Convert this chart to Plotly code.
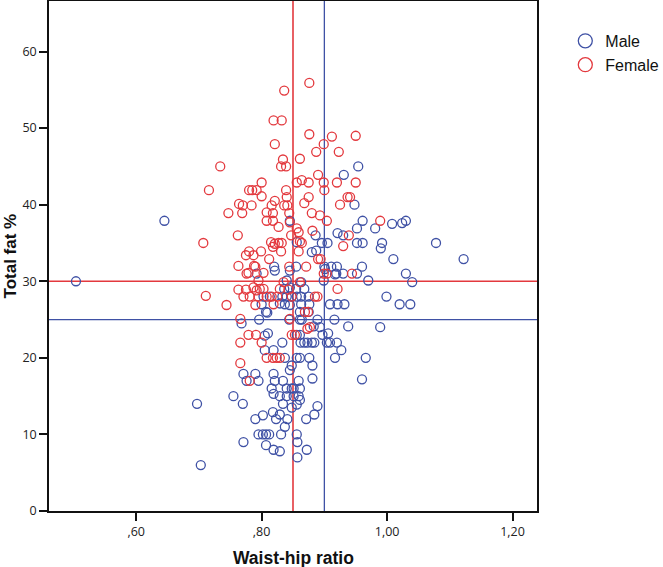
import plotly.graph_objects as go

# ---- data ----
female_x = [0.876, 0.836, 0.819, 0.832, 0.876, 0.912, 0.950, 0.821, 0.899, 0.887, 0.923, 0.861, 0.834, 0.831, 0.839, 0.734, 0.890,
            0.800, 0.856, 0.864, 0.875, 0.899, 0.920, 0.950,
            0.716, 0.780, 0.785, 0.792, 0.839, 0.900,
            0.800, 0.840, 0.875, 0.937, 0.941,
            0.821, 0.868, 0.764, 0.770, 0.784, 0.816, 0.836, 0.841, 0.925,
            0.747, 0.769, 0.808, 0.818, 0.844, 0.880, 0.893,
            0.808, 0.818, 0.845, 0.904, 0.989,
            0.827, 0.856, 0.859, 0.881,
            0.762, 0.847, 0.939,
            0.707, 0.815, 0.821, 0.827, 0.832, 0.861, 0.864, 0.930,
            0.818, 0.831, 0.859, 0.780, 0.799, 0.775, 0.787,
            0.812, 0.890, 0.894,
            0.763, 0.788, 0.790, 0.844, 0.871,
            0.779, 0.803, 0.776, 0.899, 0.904, 0.944,
            0.795, 0.835, 0.861,
            0.763, 0.775, 0.787, 0.792, 0.803, 0.829, 0.843, 0.921, 0.797,
            0.711, 0.771, 0.781, 0.795, 0.808, 0.816, 0.825, 0.848, 0.885, 0.889,
            0.744, 0.790, 0.819,
            0.869, 0.874,
            0.766, 0.845,
            0.877, 0.873,
            0.779, 0.791, 0.848, 0.853,
            0.766, 0.800,
            0.808, 0.818, 0.824, 0.829,
            0.766, 0.781]
female_y = [55.9, 54.9, 51.0, 51.0, 49.2, 48.9, 49.0, 47.9, 47.9, 46.9, 46.9, 46.0, 45.9, 45.0, 45.0, 45.0, 43.9,
            42.9, 42.9, 43.2, 42.9, 42.9, 42.9, 42.9,
            41.9, 41.9, 41.9, 41.9, 41.9, 41.9,
            41.1, 41.0, 41.0, 41.0, 41.0,
            40.5, 40.2, 40.1, 39.9, 39.9, 39.9, 39.9, 39.9, 40.0,
            38.9, 38.9, 39.0, 38.9, 38.9, 38.9, 38.6,
            37.9, 37.9, 37.7, 37.9, 37.9,
            37.1, 36.9, 36.4, 36.6,
            36.0, 36.0, 36.0,
            35.0, 35.1, 34.9, 35.0, 35.0, 35.2, 35.0, 34.6,
            34.5, 33.9, 33.9, 33.9, 33.9, 33.4, 33.4,
            32.9, 32.9, 32.9,
            32.0, 32.0, 31.9, 31.9, 31.9,
            31.1, 31.1, 31.0, 31.0, 31.0, 31.0,
            30.1, 29.9, 29.9,
            28.9, 28.9, 29.2, 28.8, 29.0, 29.0, 28.9, 29.0, 29.0,
            28.1, 28.0, 28.0, 28.0, 28.0, 28.0, 28.0, 28.0, 28.0, 28.0,
            26.9, 26.9, 27.0,
            26.0, 26.0,
            25.1, 25.1,
            24.0, 23.8,
            23.0, 23.0, 23.0, 23.0,
            22.0, 22.0,
            20.0, 20.0, 20.0, 20.0,
            19.3, 17.0]

male_x = [0.954, 0.931, 0.645, 0.948,
          0.961, 1.008, 1.024, 1.030, 0.845,
          0.952, 0.981, 0.886, 0.921, 0.930, 0.856,
          0.896, 0.905, 0.952, 0.961, 0.992, 1.078, 0.990,
          0.880, 0.887,
          1.010, 1.122,
          0.820, 0.855, 0.900, 0.911, 0.920, 0.960,
          0.792, 0.901, 0.919, 0.930, 0.952, 1.030, 0.821, 0.845, 0.917,
          0.504, 0.840, 0.863, 0.899, 0.970, 1.040,
          0.855, 0.868, 0.836, 0.845,
          0.803, 0.813, 0.833, 0.848, 0.863, 0.875, 0.999, 0.856, 0.840,
          0.800, 0.837, 0.863, 0.876, 0.909, 0.921, 0.932, 1.020, 1.037, 0.829, 0.845,
          0.807, 0.861, 0.875, 0.809,
          0.864, 0.768, 0.796, 0.889, 0.916, 0.844, 0.861,
          0.883, 0.893, 0.938, 0.989,
          0.805, 0.810, 0.856, 0.861, 0.897, 0.906,
          0.833, 0.862, 0.868, 0.873, 0.880, 0.884, 0.904, 0.909, 0.920,
          0.927, 0.805, 0.819,
          0.837, 0.856, 0.861, 0.876, 0.917, 0.966,
          0.848, 0.881, 0.845,
          0.771, 0.790, 0.819,
          0.776, 0.795, 0.821, 0.834, 0.859, 0.881, 0.960,
          0.816, 0.840, 0.848, 0.851, 0.861,
          0.755, 0.819, 0.829, 0.840, 0.851, 0.859, 0.861,
          0.697, 0.770, 0.834, 0.856, 0.889, 0.848,
          0.802, 0.818, 0.829, 0.884, 0.790, 0.823, 0.841, 0.871,
          0.837,
          0.795, 0.802, 0.807, 0.812, 0.831, 0.856,
          0.771, 0.857, 0.807,
          0.819, 0.829, 0.872,
          0.857, 0.703]
male_y = [45.0, 43.9, 37.9, 40.0,
          37.9, 37.5, 37.6, 37.9, 37.9,
          36.9, 36.9, 36.0, 36.3, 36.0, 35.1,
          35.0, 35.0, 35.0, 35.0, 35.0, 35.0, 34.3,
          33.8, 34.0,
          32.9, 32.9,
          31.9, 31.9, 31.9, 31.9, 31.9, 31.9,
          31.0, 31.6, 31.0, 31.0, 31.0, 31.0, 31.4, 31.4, 30.9,
          30.0, 30.1, 29.9, 30.1, 30.1, 29.9,
          29.0, 29.0, 29.0, 29.2,
          28.0, 28.0, 28.0, 28.0, 28.0, 28.0, 28.0, 28.0, 28.0,
          27.0, 27.0, 27.0, 27.0, 27.0, 27.0, 27.0, 27.0, 27.0, 27.1, 26.9,
          26.0, 26.0, 26.0, 25.9,
          25.0, 24.5, 25.0, 25.0, 25.0, 25.0, 25.0,
          24.1, 24.0, 24.1, 24.0,
          22.9, 23.2, 23.0, 23.0, 23.0, 23.2,
          22.0, 22.0, 22.0, 22.0, 22.0, 22.0, 22.0, 22.0, 22.0,
          21.0, 21.0, 21.0,
          20.0, 20.0, 20.0, 20.0, 20.0, 20.0,
          19.0, 19.0, 18.4,
          17.9, 17.9, 17.9,
          17.0, 17.0, 17.0, 17.0, 17.0, 17.3, 17.2,
          16.0, 16.0, 16.0, 16.0, 16.0,
          15.0, 15.3, 15.0, 15.0, 15.0, 15.0, 14.5,
          14.0, 14.0, 14.0, 13.9, 13.7, 13.5,
          12.5, 12.9, 12.6, 12.6, 12.0, 12.0, 12.0, 12.0,
          11.0,
          10.0, 10.0, 10.0, 10.0, 10.0, 10.0,
          9.0, 9.0, 8.6,
          8.0, 7.8, 8.0,
          7.0, 6.0]

# reference lines
male_cut_x, female_cut_x = 0.90, 0.85
male_cut_y, female_cut_y = 25, 30

x_tickvals = [0.60, 0.80, 1.00, 1.20]
x_ticktext = [",60", ",80", "1,00", "1,20"]
y_tickvals = [0, 10, 20, 30, 40, 50, 60]

BLUE = "#3F51A5"
RED = "#E3393E"

fig = go.Figure()
fig.add_trace(go.Scatter(x=male_x, y=male_y, mode="markers", showlegend=False,
                         marker=dict(symbol="circle-open", size=9, color=BLUE, line=dict(width=1.3, color=BLUE))))
fig.add_trace(go.Scatter(x=female_x, y=female_y, mode="markers", showlegend=False,
                         marker=dict(symbol="circle-open", size=9, color=RED, line=dict(width=1.3, color=RED))))
# legend entries
fig.add_trace(go.Scatter(x=[None], y=[None], mode="markers", name="Male",
                         marker=dict(symbol="circle-open", size=14, color=BLUE, line=dict(width=1.3, color=BLUE))))
fig.add_trace(go.Scatter(x=[None], y=[None], mode="markers", name="Female",
                         marker=dict(symbol="circle-open", size=14, color=RED, line=dict(width=1.3, color=RED))))

fig.add_vline(x=female_cut_x, line=dict(color=RED, width=1.6), layer="below")
fig.add_vline(x=male_cut_x, line=dict(color=BLUE, width=1.3), layer="below")
fig.add_hline(y=female_cut_y, line=dict(color=RED, width=1.3), layer="below")
fig.add_hline(y=male_cut_y, line=dict(color=BLUE, width=1.3), layer="below")

axis_common = dict(showline=True, linecolor="#111", linewidth=1.5, mirror=True,
                   ticks="outside", tickcolor="#111", tickwidth=1.5, ticklen=8,
                   showgrid=False, zeroline=False, automargin=False,
                   tickfont=dict(family="Open Sans, Liberation Sans, sans-serif", size=12.5, color="#222"))

fig.update_layout(
    width=663, height=567,
    margin=dict(l=49, r=126, t=1, b=56, autoexpand=False),
    paper_bgcolor="white", plot_bgcolor="white",
    xaxis=dict(range=[0.461, 1.239], tickvals=x_tickvals, ticktext=x_ticktext, **axis_common),
    yaxis=dict(range=[0, 66.6], tickvals=y_tickvals, **axis_common),
    legend=dict(x=1.058, y=0.955, xanchor="left", yanchor="top",
                font=dict(family="Liberation Sans, Arial, sans-serif", size=16, color="#111"),
                bgcolor="rgba(0,0,0,0)", tracegroupgap=0, itemwidth=30),
    annotations=[
        dict(text="<b>Waist-hip ratio</b>", xref="paper", yref="paper", x=0.5, y=-0.092,
             xanchor="center", yanchor="middle", showarrow=False,
             font=dict(family="Liberation Sans, Arial, sans-serif", size=17.5, color="#111")),
        dict(text="<b>Total fat %</b>", xref="paper", yref="paper", x=-0.079, y=0.5,
             xanchor="center", yanchor="middle", showarrow=False, textangle=-90,
             font=dict(family="Liberation Sans, Arial, sans-serif", size=17, color="#111")),
    ],
)

fig.write_html("out.html", config={"displayModeBar": False},
               post_script="document.body.style.margin='0';document.body.style.padding='0';")
